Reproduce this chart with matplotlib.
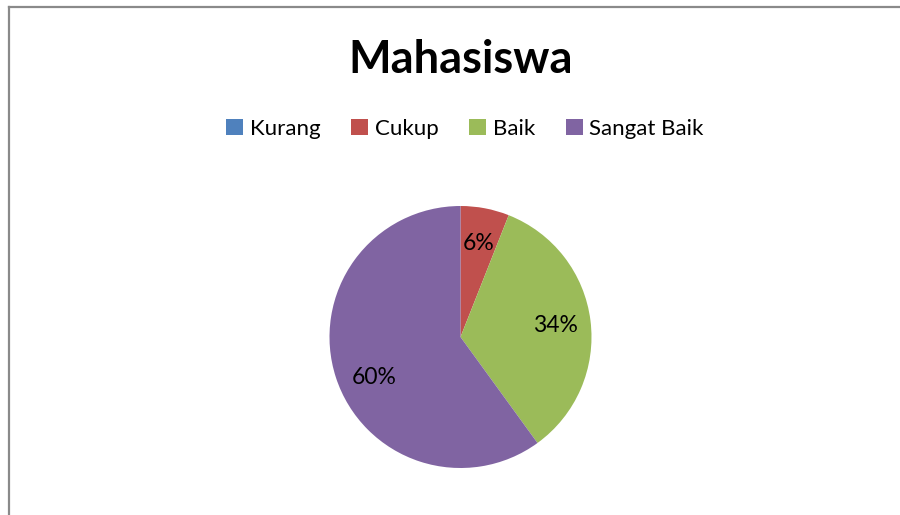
import numpy as np
import matplotlib
matplotlib.use("Agg")
import matplotlib.pyplot as plt
from matplotlib.lines import Line2D
from matplotlib.patches import Patch

categories = ["Kurang", "Cukup", "Baik", "Sangat Baik"]
values = [0, 6, 34, 60]
colors = ["#4F81BD", "#C0504D", "#9BBB59", "#8064A2"]
title = "Mahasiswa"

plt.rcParams['font.family'] = ['Lato', 'DejaVu Sans']

W, H = 900, 515
fig = plt.figure(figsize=(W / 100, H / 100), dpi=100)
fig.patch.set_facecolor("white")

# chart frame (only left and top edges visible)
fig.add_artist(Line2D([8.5 / W, 8.5 / W], [0, 1 - 7 / H], transform=fig.transFigure,
                      color="#8a8a8a", lw=1.6))
fig.add_artist(Line2D([8.5 / W, 1], [1 - 7 / H, 1 - 7 / H], transform=fig.transFigure,
                      color="#8a8a8a", lw=1.6))

# pie axes, centre (460.5, 337) px, radius 131 px
cx, cy, r = 460.5, 337, 131
ax = fig.add_axes([(cx - r) / W, (H - cy - r) / H, 2 * r / W, 2 * r / H])


def fmt(p):
    return "" if p < 0.5 else "%d%%" % round(p)


wedges, texts, autotexts = ax.pie(values, colors=colors, startangle=90,
                                  counterclock=False, autopct=fmt,
                                  pctdistance=0.73,
                                  wedgeprops=dict(linewidth=0),
                                  textprops=dict(fontsize=16.5, color="black"))
ax.set_xlim(-1, 1)
ax.set_ylim(-1, 1)
ax.set_aspect("equal")
ax.axis("off")

# best-fit style placement for the large slice label
big = int(np.argmax(values))
x, y = autotexts[big].get_position()
ang = np.arctan2(y, x) + np.radians(7)
rad = 0.725
autotexts[big].set_position((rad * np.cos(ang), rad * np.sin(ang)))

fig.text(cx / W, 1 - 60 / H, title, ha="center", va="center",
         fontsize=32.5, fontweight="bold")

handles = [Patch(facecolor=c, edgecolor="none") for c in colors]
fig.legend(handles, categories, loc="center", bbox_to_anchor=(465 / W, 1 - 129 / H),
           ncol=4, frameon=False, fontsize=16, handlelength=0.75, handleheight=0.75,
           handletextpad=0.3, columnspacing=1.4)

fig.savefig("out.png", dpi=100, facecolor="white")
